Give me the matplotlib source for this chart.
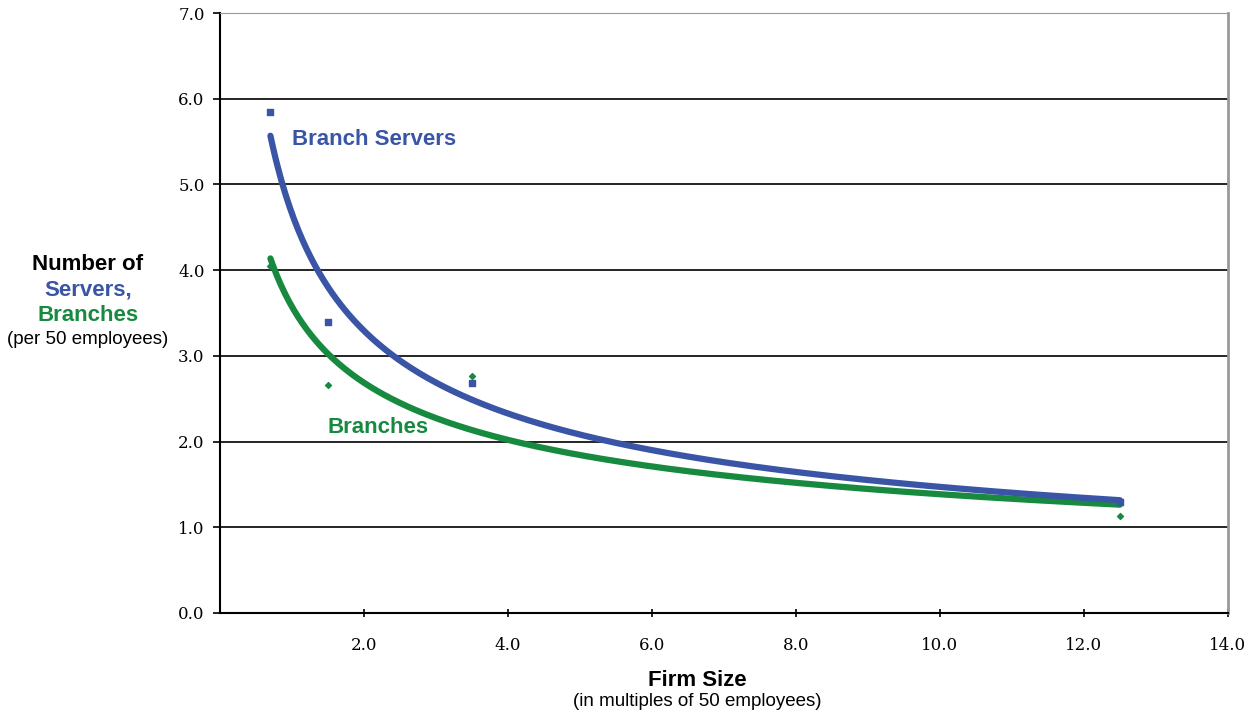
import numpy as np
import matplotlib.pyplot as plt

plt.rcParams['font.family'] = ['Liberation Sans', 'DejaVu Sans']

# data
firm_size = [0.7, 1.5, 3.5, 12.5]
servers = [5.85, 3.40, 2.68, 1.30]
branches = [4.05, 2.66, 2.77, 1.13]

x_ticks = [2, 4, 6, 8, 10, 12, 14]
y_ticks = [0, 1, 2, 3, 4, 5, 6, 7]

blue = '#3a55a6'
green = '#178a40'

def power_fit(x, y):
    b, ln_a = np.polyfit(np.log(x), np.log(y), 1)
    return np.exp(ln_a), b

fig = plt.figure(figsize=(12.53, 7.15), dpi=100)
ax = fig.add_axes([0.1756, 0.1427, 0.8044, 0.8391])

xs = np.linspace(min(firm_size), max(firm_size), 400)
for y, col in [(branches, green), (servers, blue)]:
    a, b = power_fit(np.array(firm_size), np.array(y))
    ax.plot(xs, a * xs ** b, color=col, lw=4.5, solid_capstyle='round', zorder=3)

ax.scatter(firm_size, servers, marker='s', s=14, color=blue, zorder=4)
ax.scatter(firm_size, branches, marker='D', s=9, color=green, zorder=4)

ax.text(1.0, 5.52, 'Branch Servers', color=blue, fontsize=16,
        fontweight='bold', va='center', ha='left')
ax.text(1.49, 2.16, 'Branches', color=green, fontsize=16,
        fontweight='bold', va='center', ha='left')

ax.set_xlim(0, 14)
ax.set_ylim(0, 7)
ax.set_xticks(x_ticks)
ax.set_xticklabels([f'{v:.1f}' for v in x_ticks], family='DejaVu Serif', fontsize=12)
ax.set_yticks(y_ticks)
ax.set_yticklabels([f'{v:.1f}' for v in y_ticks], family='DejaVu Serif', fontsize=12)
ax.tick_params(axis='x', direction='inout', length=6, width=1.2, pad=14)
ax.tick_params(axis='y', direction='out', length=5, width=1.2, pad=6)

for v in y_ticks[1:-1]:
    ax.axhline(v, color='black', lw=1.2, zorder=1)
ax.spines['left'].set_linewidth(1.5)
ax.spines['bottom'].set_linewidth(1.5)
ax.spines['top'].set_color('#999999')
ax.spines['right'].set_color('#999999')
ax.spines['right'].set_linewidth(2)

# y label block
fig.text(88 / 1253, 1 - 265 / 715, 'Number of', fontsize=16, fontweight='bold',
         ha='center', va='center')
fig.text(88 / 1253, 1 - 290 / 715, 'Servers,', fontsize=16, fontweight='bold',
         color=blue, ha='center', va='center')
fig.text(88 / 1253, 1 - 315 / 715, 'Branches', fontsize=16, fontweight='bold',
         color=green, ha='center', va='center')
fig.text(88 / 1253, 1 - 340 / 715, '(per 50 employees)', fontsize=13.5,
         ha='center', va='center')

# x label block
fig.text(697 / 1253, 1 - 680 / 715, 'Firm Size', fontsize=16, fontweight='bold',
         ha='center', va='center')
fig.text(697 / 1253, 1 - 702 / 715, '(in multiples of 50 employees)', fontsize=13.5,
         ha='center', va='center')

fig.savefig('out.png', dpi=100)
